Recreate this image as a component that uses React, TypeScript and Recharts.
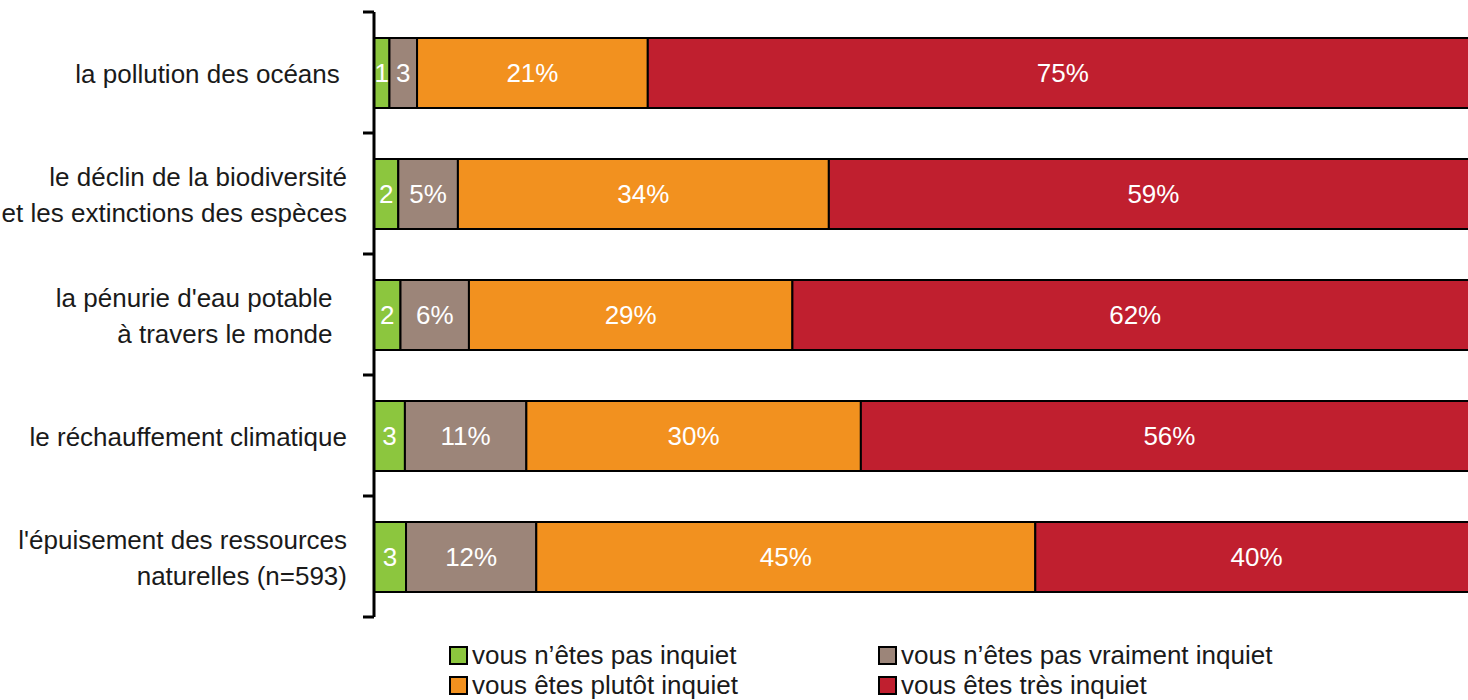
import { BarChart, Bar, XAxis, YAxis, LabelList } from "recharts"

const FONT = "'Liberation Sans', Arial, sans-serif"

// Categories (top to bottom) and their wrapped label lines
const CATEGORIES = ["ocean", "biodiv", "water", "climate", "resources"]
const CATEGORY_LINES = [
  ["la pollution des océans\u00a0"],
  ["le déclin de la biodiversité", "et les extinctions des espèces"],
  ["la pénurie d'eau potable\u00a0\u00a0", "à travers le monde\u00a0\u00a0"],
  ["le réchauffement climatique"],
  ["l'épuisement des ressources", "naturelles (n=593)"],
]

// Shares (percent)
const NOT_WORRIED = [1.4, 2.2, 2.4, 2.8, 2.9]
const NOT_REALLY = [2.5, 5.4, 6.2, 11.0, 11.8]
const RATHER = [20.9, 33.6, 29.3, 30.3, 45.2]
const VERY = [75.2, 58.8, 62.1, 55.9, 40.1]

// Printed labels inside the bars
const NOT_WORRIED_LBL = ["1", "2", "2", "3", "3"]
const NOT_REALLY_LBL = ["3", "5%", "6%", "11%", "12%"]
const RATHER_LBL = ["21%", "34%", "29%", "30%", "45%"]
const VERY_LBL = ["75%", "59%", "62%", "56%", "40%"]

const SERIES = [
  { key: "a", name: "vous n\u2019êtes pas inquiet", colour: "#8cc63e" },
  { key: "b", name: "vous n\u2019êtes pas vraiment inquiet", colour: "#9c8579" },
  { key: "c", name: "vous êtes plutôt inquiet", colour: "#f2911f" },
  { key: "d", name: "vous êtes très inquiet", colour: "#c01f2f" },
]

const data = CATEGORIES.map((cat, i) => ({
  cat,
  a: NOT_WORRIED[i], aL: NOT_WORRIED_LBL[i],
  b: NOT_REALLY[i], bL: NOT_REALLY_LBL[i],
  c: RATHER[i], cL: RATHER_LBL[i],
  d: VERY[i], dL: VERY_LBL[i],
}))

const AXIS_X = 374
const TOP = 12
const BOTTOM = 617
const HALF_BAND = (BOTTOM - TOP) / CATEGORIES.length / 2
const LINE_H = 36

function CategoryTick(props: any) {
  const { y, index } = props
  const lines = CATEGORY_LINES[index] ?? []
  const start = y - ((lines.length - 1) * LINE_H) / 2
  return (
    <g>
      <line x1={AXIS_X - 11} x2={AXIS_X} y1={y - HALF_BAND} y2={y - HALF_BAND} stroke="#000" strokeWidth={3} />
      {index === CATEGORIES.length - 1 && (
        <line x1={AXIS_X - 11} x2={AXIS_X} y1={y + HALF_BAND} y2={y + HALF_BAND} stroke="#000" strokeWidth={3} />
      )}
      <text textAnchor="end" fontFamily={FONT} fontSize={26} fill="#1a1a1a">
        {lines.map((l, k) => (
          <tspan key={k} x={AXIS_X - 27} y={start + k * LINE_H + 1} dy="0.35em">{l}</tspan>
        ))}
      </text>
    </g>
  )
}

export default function App() {
  return (
    <div style={{ position: "absolute", left: 0, top: 0, width: 1468, height: 700, background: "#fff", overflow: "hidden" }}>
      {/* plot runs past the right edge of the frame, as in the source image */}
      <BarChart
        width={1484}
        height={620}
        data={data}
        layout="vertical"
        margin={{ top: TOP, right: 6, bottom: 620 - BOTTOM, left: 0 }}
        barSize={70}
      >
        <XAxis type="number" domain={[0, 100]} hide />
        <YAxis
          type="category"
          dataKey="cat"
          width={AXIS_X}
          axisLine={{ stroke: "#000", strokeWidth: 3 }}
          tickLine={false}
          tick={<CategoryTick />}
          interval={0}
        />
        {SERIES.map((s) => (
          <Bar
            key={s.key}
            dataKey={s.key}
            stackId="x"
            fill={s.colour}
            stroke="#000"
            strokeWidth={2}
            isAnimationActive={false}
          >
            <LabelList
              dataKey={s.key + "L"}
              position="center"
              fill="#fff"
              fontSize={26}
              fontFamily={FONT}
            />
          </Bar>
        ))}
      </BarChart>

      {/* Legend, two columns */}
      <div
        style={{
          position: "absolute",
          left: 449,
          top: 640,
          display: "grid",
          gridTemplateColumns: "429px 400px",
          fontFamily: FONT,
          fontSize: 26,
          lineHeight: "30px",
          color: "#1a1a1a",
        }}
      >
        {SERIES.map((s) => (
          <div key={s.key} style={{ display: "flex", alignItems: "center", whiteSpace: "nowrap" }}>
            <span
              style={{
                display: "inline-block",
                flexShrink: 0,
                width: 15,
                height: 15,
                background: s.colour,
                border: "2px solid #000",
                marginRight: 4,
              }}
            />
            {s.name}
          </div>
        ))}
      </div>
    </div>
  )
}
